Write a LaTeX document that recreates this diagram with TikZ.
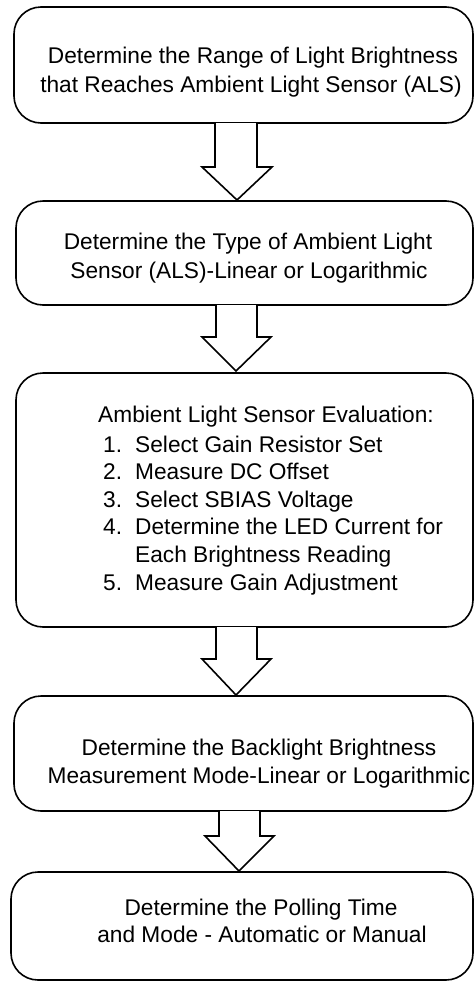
\documentclass[tikz,border=0pt]{standalone}
\usepackage{fontspec}
\setmainfont{Liberation Sans}
\begin{document}
\begin{tikzpicture}[x=1pt,y=-1pt,
  boxline/.style={draw=black,line width=1.6pt,rounded corners=27pt,fill=white},
  arrowline/.style={draw=black,line width=1.6pt,line join=miter},
  txt/.style={font=\fontsize{22.7}{29}\selectfont,inner sep=0pt,anchor=base},
  ltxt/.style={txt,anchor=base west}]
\useasboundingbox (0,0) rectangle (474,983);
% boxes
\draw[boxline] (14,7) rectangle (473,123);
\draw[boxline] (16,201) rectangle (473,305);
\draw[boxline] (16,373) rectangle (473,627);
\draw[boxline] (14,696) rectangle (473,811);
\draw[boxline] (11,872) rectangle (473,980);
% block arrows
\foreach \sl/\sr/\hl/\hr/\yt/\yh/\tx/\ty in
  {215/257/202/272/123/167/237/200,
   216/257/202/271/305/337/236/371,
   216/257/202/271/627/659/236/695,
   219/260/205/274/811/836/239/871}{
  \fill[white] (\sl,\yt) -- (\sl,\yh) -- (\hl,\yh) -- (\tx,\ty) -- (\hr,\yh) -- (\sr,\yh) -- (\sr,\yt) -- cycle;
  \draw[arrowline] (\sl,\yt) -- (\sl,\yh) -- (\hl,\yh) -- (\tx,\ty) -- (\hr,\yh) -- (\sr,\yh) -- (\sr,\yt);
}
% texts
\node[txt] (t1a) at (253,63) {Determine the Range of Light Brightness};
\node[txt] (t1b) at (251,92) {that Reaches Ambient Light Sensor (ALS)};
\node[txt] (t2a) at (248,249) {Determine the Type of Ambient Light};
\node[txt] (t2b) at (249,278) {Sensor (ALS)-Linear or Logarithmic};
\node[ltxt] (t3h) at (98,422) {Ambient Light Sensor Evaluation:};
\node[ltxt] (n1) at (103,452) {1.};
\node[ltxt] (n2) at (103,479.6) {2.};
\node[ltxt] (n3) at (103,507.2) {3.};
\node[ltxt] (n4) at (103,534.8) {4.};
\node[ltxt] (n5) at (103,590) {5.};
\node[ltxt] (i1) at (135,452) {Select Gain Resistor Set};
\node[ltxt] (i2) at (135,479.6) {Measure DC Offset};
\node[ltxt] (i3) at (135,507.2) {Select SBIAS Voltage};
\node[ltxt] (i4) at (135,534.8) {Determine the LED Current for};
\node[ltxt] (i4b) at (135,562.4) {Each Brightness Reading};
\node[ltxt] (i5) at (135,590) {Measure Gain Adjustment};
\node[txt] (t4a) at (259,755) {Determine the Backlight Brightness};
\node[txt] (t4b) at (259,783) {Measurement Mode-Linear or Logarithmic};
\node[txt] (t5a) at (261,915) {Determine the Polling Time};
\node[txt] (t5b) at (262,942) {and Mode - Automatic or Manual};
\end{tikzpicture}
\end{document}
